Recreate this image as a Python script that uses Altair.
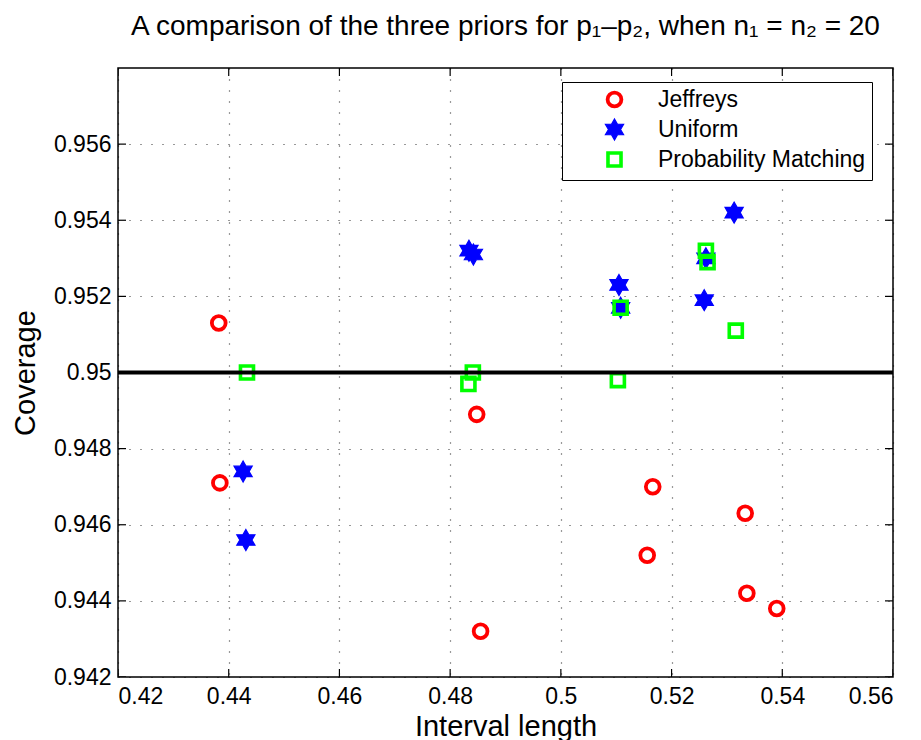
import altair as alt
import pandas as pd

# ---- data ----
jeff_x = [0.4382, 0.4384, 0.4848, 0.4855, 0.5166, 0.5156, 0.5333, 0.5336, 0.5390]
jeff_y = [0.9513, 0.9471, 0.9489, 0.9432, 0.9470, 0.9452, 0.9463, 0.9442, 0.9438]

unif_x = [0.4426, 0.4431, 0.4834, 0.4842, 0.5105, 0.5108, 0.5259, 0.5262, 0.5313]
unif_y = [0.9474, 0.9456, 0.9532, 0.9531, 0.9523, 0.9517, 0.9519, 0.9530, 0.9542]

pm_x = [0.4433, 0.4841, 0.4833, 0.5103, 0.5108, 0.5262, 0.5265, 0.5316]
pm_y = [0.9500, 0.9500, 0.9497, 0.9498, 0.9517, 0.9532, 0.9529, 0.9511]

series = ["Jeffreys", "Uniform", "Probability Matching"]
reference_level = [0.95]
x_ticks = [0.42, 0.44, 0.46, 0.48, 0.50, 0.52, 0.54, 0.56]
y_ticks = [0.942, 0.944, 0.946, 0.948, 0.950, 0.952, 0.954, 0.956]

rows = []
for name, xs, ys in [(series[0], jeff_x, jeff_y), (series[1], unif_x, unif_y), (series[2], pm_x, pm_y)]:
    for a, b in zip(xs, ys):
        rows.append({"len": a, "cov": b, "prior": name})
df = pd.DataFrame(rows)

W, H = 775, 609
FONT = "Liberation Sans"
HEX = "M0,-1L0.2887,-0.5L0.866,-0.5L0.5774,0L0.866,0.5L0.2887,0.5L0,1L-0.2887,0.5L-0.866,0.5L-0.5774,0L-0.866,-0.5L-0.2887,-0.5Z"

xscale = alt.Scale(domain=[0.42, 0.56], nice=False, zero=False)
yscale = alt.Scale(domain=[0.942, 0.958], nice=False, zero=False)

xaxis = alt.Axis(values=x_ticks, format=".2~f", title="Interval length", grid=True,
                 ticks=False, domain=False, labelPadding=8, titlePadding=4)
yaxis = alt.Axis(values=y_ticks, format=".3~f", title="Coverage", grid=True,
                 ticks=False, domain=False, labelPadding=7, titlePadding=13)

leg = alt.Legend(title=None)
points = alt.Chart(df).mark_point(opacity=1).encode(
    x=alt.X("len:Q", scale=xscale, axis=xaxis),
    y=alt.Y("cov:Q", scale=yscale, axis=yaxis),
    stroke=alt.Stroke("prior:N", scale=alt.Scale(type="ordinal", domain=series, range=["#ff0000", "#0000ff", "#00ff00"]), legend=leg),
    fill=alt.Fill("prior:N", scale=alt.Scale(type="ordinal", domain=series, range=["transparent", "#0000ff", "transparent"]), legend=leg),
    shape=alt.Shape("prior:N", scale=alt.Scale(type="ordinal", domain=series, range=["circle", HEX, "square"]), legend=leg),
    size=alt.Size("prior:N", scale=alt.Scale(type="ordinal", domain=series, range=[190, 440, 170]), legend=leg),
    strokeWidth=alt.StrokeWidth("prior:N", scale=alt.Scale(type="ordinal", domain=series, range=[3.8, 1.2, 3.6]), legend=leg),
)

line = alt.Chart(pd.DataFrame({"v": reference_level})).mark_rule(color="black", strokeWidth=4).encode(
    y=alt.Y("v:Q", scale=yscale)
)

xt = pd.DataFrame({"t": x_ticks})
yt = pd.DataFrame({"t": y_ticks})
tk = dict(size=16, thickness=1.2, color="black", clip=True, opacity=1)
tick_bottom = alt.Chart(xt).mark_tick(orient="vertical", **tk).encode(x=alt.X("t:Q", scale=xscale), y=alt.value(H))
tick_top = alt.Chart(xt).mark_tick(orient="vertical", **tk).encode(x=alt.X("t:Q", scale=xscale), y=alt.value(0))
tick_left = alt.Chart(yt).mark_tick(orient="horizontal", **tk).encode(y=alt.Y("t:Q", scale=yscale), x=alt.value(0))
tick_right = alt.Chart(yt).mark_tick(orient="horizontal", **tk).encode(y=alt.Y("t:Q", scale=yscale), x=alt.value(W))

chart = alt.layer(tick_bottom, tick_top, tick_left, tick_right, points, line).properties(
    width=W, height=H,
    background="white",
    title=alt.TitleParams("A comparison of the three priors for  p\u2081\u2013p\u2082, when  n\u2081 =  n\u2082 = 20",
                          anchor="middle", fontSize=28, font=FONT, fontWeight="normal", color="black",
                          baseline="alphabetic", offset=5),
    autosize=alt.AutoSizeParams(type="none"),
    padding={"left": 118, "top": 68, "right": 28, "bottom": 63},
).configure_view(
    stroke="black", strokeWidth=1.5
).configure_axis(
    labelFont=FONT, labelFontSize=23, labelColor="black",
    titleFont=FONT, titleFontSize=29, titleFontWeight="normal", titleColor="black",
    gridColor="black", gridDash=[1, 10], gridWidth=1.2, gridOpacity=0.8,
).configure_legend(
    orient="none", legendX=444, legendY=14,
    strokeColor="black", fillColor="white", padding=6,
    labelFont=FONT, labelFontSize=23, labelColor="black", labelLimit=400,
    symbolOffset=35, labelOffset=32, rowPadding=2,
)

chart.save("out.html", embed_options={"renderer": "svg", "actions": False})
